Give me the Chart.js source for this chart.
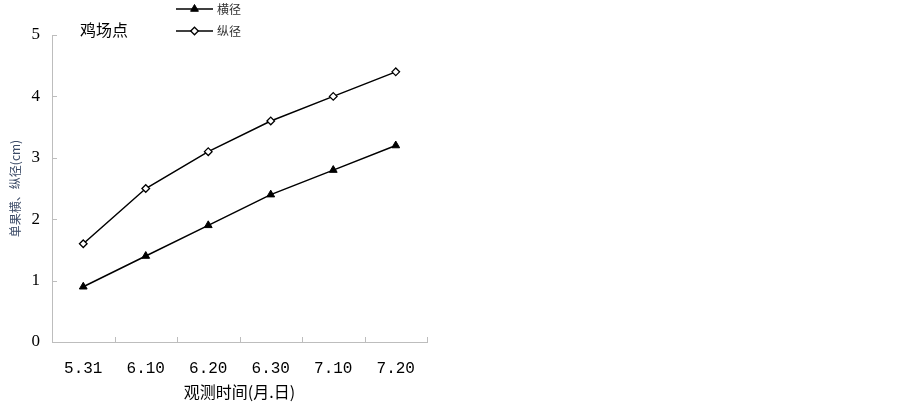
<!DOCTYPE html>
<html><head><meta charset="utf-8">
<script src="https://cdn.jsdelivr.net/npm/chart.js@4/dist/chart.umd.min.js"></script>
<style>html,body{margin:0;padding:0;background:#fff}canvas{display:block}</style>
</head><body>
<canvas id="c" width="903" height="402"></canvas>
<script>
const categories = ['5.31','6.10','6.20','6.30','7.10','7.20'];
const hengjing = [0.9, 1.4, 1.9, 2.4, 2.8, 3.2];
const zongjing = [1.6, 2.5, 3.1, 3.6, 4.0, 4.4];
const seriesNames = ['横径','纵径'];
const chartTitle = '鸡场点';
const xTitle = '观测时间(月.日)';
const yTitle = '单果横、纵径(cm)';

const CJK = '"Noto Sans CJK SC"';
const axisGray = '#bdbdbd';

const decor = {
  id:'decor',
  afterDraw(chart){
    const ctx = chart.ctx, x = chart.scales.x, y = chart.scales.y, a = chart.chartArea;
    ctx.save();
    ctx.strokeStyle = axisGray; ctx.lineWidth = 1;
    // y ticks inside
    y.ticks.forEach((t,i)=>{
      const py = Math.round(y.getPixelForTick(i))+0.5;
      ctx.beginPath(); ctx.moveTo(a.left, py); ctx.lineTo(a.left+5, py); ctx.stroke();
    });
    // x ticks inside at category boundaries
    for(let i=1;i<=categories.length;i++){
      const px = Math.round(x.getPixelForValue(i-0.5))+0.5;
      ctx.beginPath(); ctx.moveTo(px, a.bottom); ctx.lineTo(px, a.bottom-5); ctx.stroke();
    }
    // title
    ctx.fillStyle = '#000';
    ctx.font = '16px ' + CJK;
    ctx.textBaseline = 'middle'; ctx.textAlign = 'left';
    ctx.fillText(chartTitle, 80, 30);
    // legend
    const ds = chart.data.datasets;
    const rows = [9, 31];
    ds.forEach((d,i)=>{
      const yy = rows[i];
      ctx.strokeStyle = '#000'; ctx.lineWidth = 1.5;
      ctx.beginPath(); ctx.moveTo(176, yy); ctx.lineTo(213, yy); ctx.stroke();
      ctx.fillStyle = d.pointBackgroundColor;
      ctx.strokeStyle = d.pointBorderColor;
      ctx.lineWidth = d.pointBorderWidth;
      Chart.helpers.drawPoint(ctx, {pointStyle:d.pointStyle, radius:d.pointRadius, borderWidth:d.pointBorderWidth, rotation:0}, 194.5, yy);
      ctx.fillStyle = '#333';
      ctx.font = '12px ' + CJK;
      ctx.textAlign = 'left';
      ctx.fillText(seriesNames[i], 217, yy);
    });
    ctx.restore();
  }
};

new Chart(document.getElementById('c'), {
  type:'line',
  data:{
    labels: categories,
    datasets:[
      {label:seriesNames[0], data:hengjing, borderColor:'#000', borderWidth:1.5,
       pointStyle:'triangle', pointRadius:4.5, pointBackgroundColor:'#000', pointBorderColor:'#000', pointBorderWidth:1, tension:0},
      {label:seriesNames[1], data:zongjing, borderColor:'#000', borderWidth:1.5,
       pointStyle:'rectRot', pointRadius:3.8, pointBackgroundColor:'#fff', pointBorderColor:'#000', pointBorderWidth:1.3, tension:0}
    ]
  },
  options:{
    responsive:false, animation:false, devicePixelRatio:1,
    layout:{padding:{top:35, right:476, left:0, bottom:0}},
    plugins:{legend:{display:false}, tooltip:{enabled:false}},
    scales:{
      x:{
        offset:true,
        grid:{display:false, drawTicks:false},
        border:{display:true, color:axisGray, width:1},
        ticks:{padding:17, color:'#000', font:{family:'"Liberation Mono"', size:16}},
        title:{display:true, text:xTitle, color:'#000', font:{family:CJK, size:16}, padding:{top:0,bottom:0}},
        afterFit(s){ s.height = 60; }
      },
      y:{
        min:0, max:5,
        grid:{display:false, drawTicks:false},
        border:{display:true, color:axisGray, width:1},
        ticks:{stepSize:1, padding:12, color:'#000', font:{family:'"Liberation Serif"', size:17}},
        title:{display:true, text:yTitle, color:'#3b4a66', font:{family:CJK, size:12}, padding:{top:8,bottom:0}},
        afterFit(s){ s.width = 52; }
      }
    }
  },
  plugins:[decor]
});
</script>
</body></html>
